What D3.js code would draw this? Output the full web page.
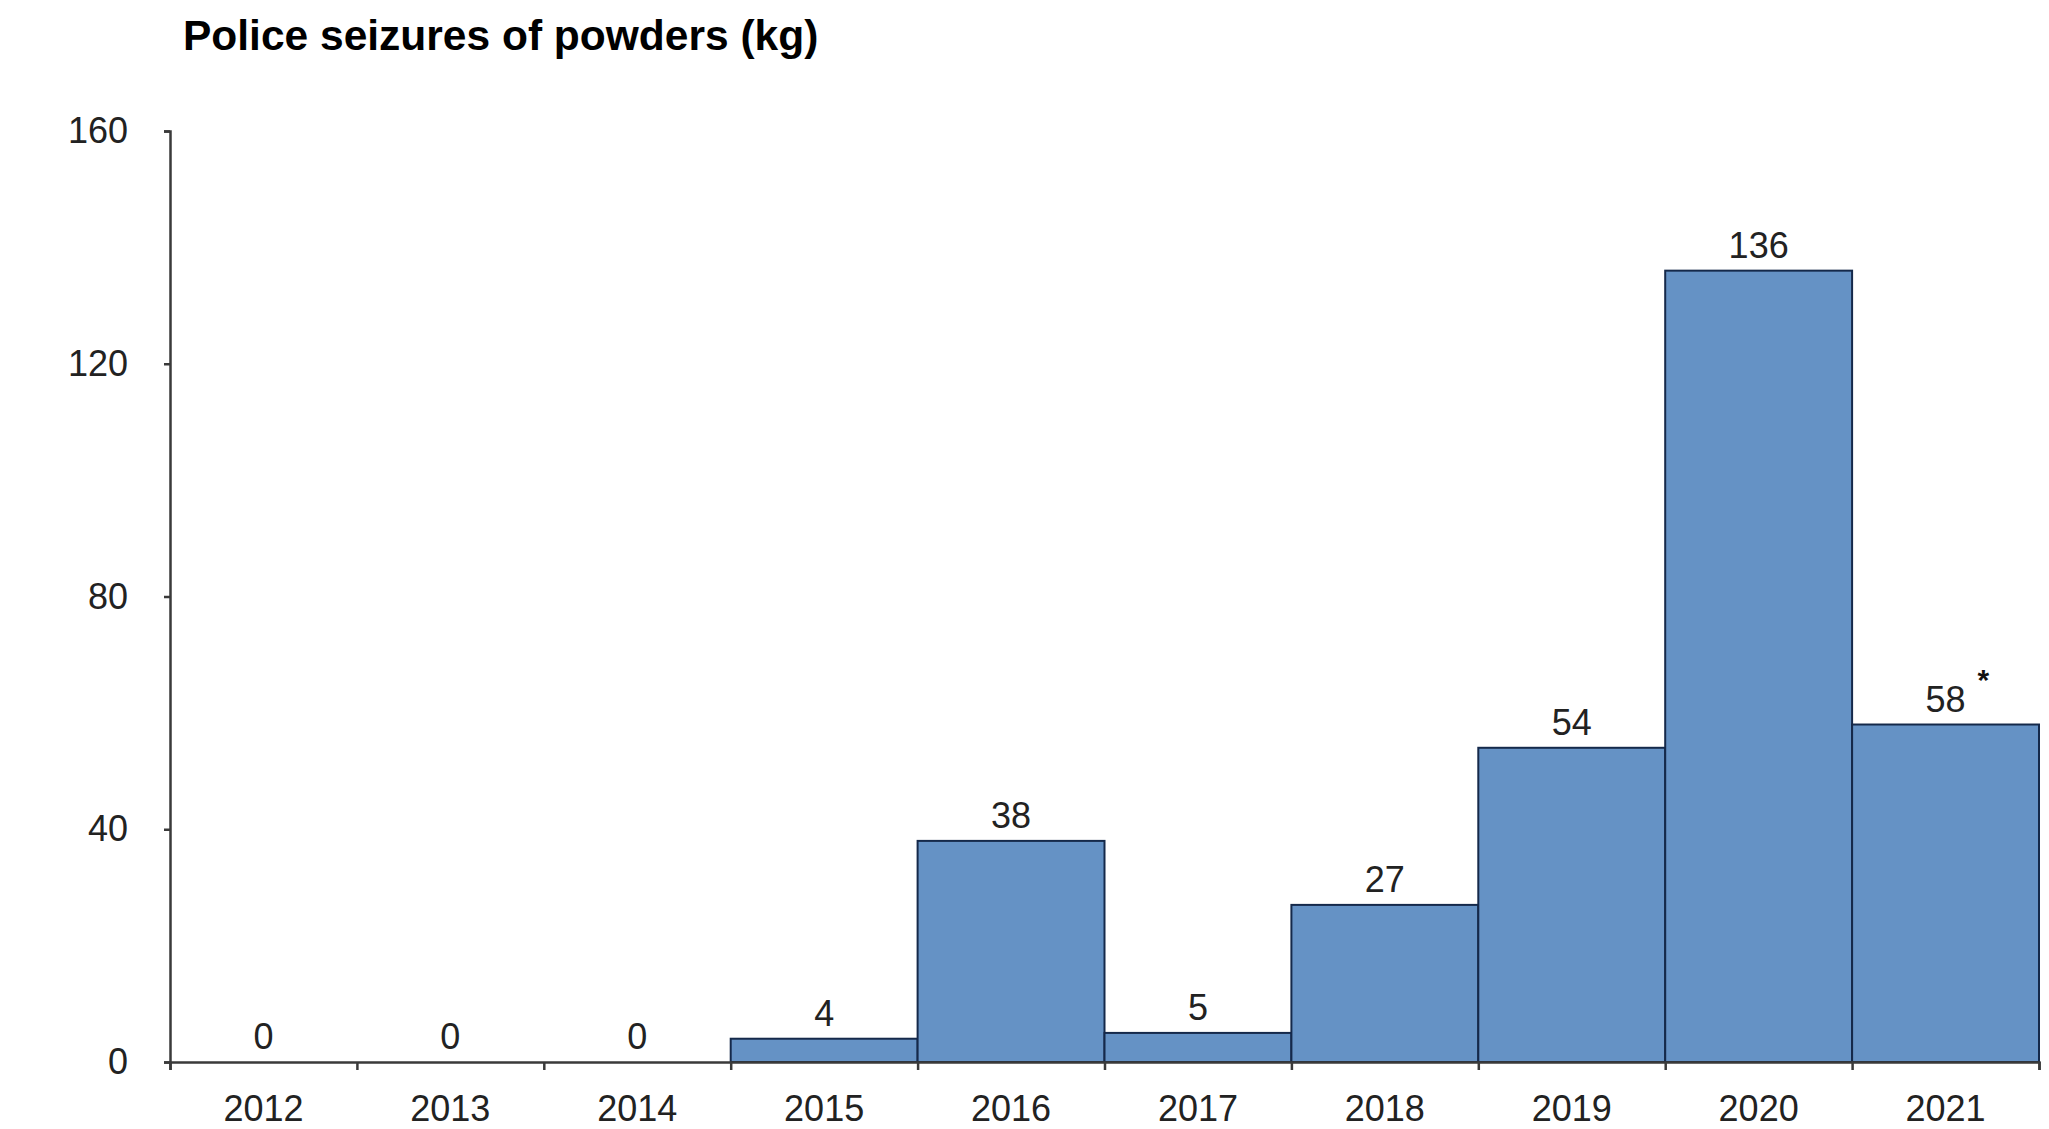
<!DOCTYPE html>
<html>
<head>
<meta charset="utf-8">
<script src="https://cdn.jsdelivr.net/npm/d3@7"></script>
<style>
  body { margin: 0; background: #fff; }
  svg { display: block; font-family: "Liberation Sans", Arial, sans-serif; }
</style>
</head>
<body>
<svg id="chart" width="2049" height="1129"></svg>
<script>
//------------------------------------------------------------------------------
// Data
//------------------------------------------------------------------------------
var years = ["2012", "2013", "2014", "2015", "2016", "2017", "2018", "2019", "2020", "2021"];
var seizures = [0, 0, 0, 4, 38, 5, 27, 54, 136, 58];
var yTicks = [0, 40, 80, 120, 160];
var notes = ["", "", "", "", "", "", "", "", "", "*"];

var width = 2049,
    height = 1129,
    margin = {top: 131, right: 10, bottom: 67, left: 170};

var svg = d3.select("#chart");

var x = d3.scaleBand()
    .domain(years)
    .range([margin.left, width - margin.right])
    .paddingInner(0)
    .paddingOuter(0);

var y = d3.scaleLinear()
    .domain([0, 160])
    .range([height - margin.bottom, margin.top]);

// boundaries between the bands, for the x tick marks
var edge = d3.scaleLinear()
    .domain([0, years.length])
    .range(x.range());

//------------------------------------------------------------------------------
// Title
//------------------------------------------------------------------------------
svg.append("text")
    .attr("x", 183)
    .attr("y", 50)
    .attr("font-size", 42.5)
    .attr("font-weight", "bold")
    .attr("fill", "#000")
    .text("Police seizures of powders (kg)");

//------------------------------------------------------------------------------
// Bars
//------------------------------------------------------------------------------
svg.append("g")
    .selectAll("rect")
    .data(seizures)
    .enter().append("rect")
    .attr("x", function(d, i) { return x(years[i]); })
    .attr("y", function(d) { return y(d); })
    .attr("width", x.bandwidth())
    .attr("height", function(d) { return y(0) - y(d); })
    .attr("fill", "#6592c5")
    .attr("stroke", function(d) { return d > 0 ? "#15294a" : "none"; })
    .attr("stroke-width", 2);

//------------------------------------------------------------------------------
// Axes
//------------------------------------------------------------------------------
var yAxis = svg.append("g")
    .attr("transform", "translate(" + margin.left + ",0)")
    .call(d3.axisLeft(y).tickValues(yTicks).tickSize(6).tickPadding(36));

yAxis.select(".domain").attr("stroke", "#3a3a3a").attr("stroke-width", 2.5);
yAxis.selectAll(".tick line").attr("stroke", "#3a3a3a").attr("stroke-width", 2.5);
yAxis.selectAll(".tick text")
    .attr("font-size", 36)
    .attr("fill", "#222")
    .attr("font-family", "Liberation Sans, Arial, sans-serif");

var xTicks = svg.append("g")
    .attr("transform", "translate(0," + y(0) + ")")
    .call(d3.axisBottom(edge).tickValues(d3.range(years.length + 1)).tickSize(8).tickFormat(""));

xTicks.select(".domain").attr("stroke", "#3a3a3a").attr("stroke-width", 2.5);
xTicks.selectAll(".tick line").attr("stroke", "#3a3a3a").attr("stroke-width", 2.5);

var xLabels = svg.append("g")
    .attr("transform", "translate(0," + y(0) + ")")
    .call(d3.axisBottom(x).tickSize(0).tickPadding(33));

xLabels.select(".domain").remove();
xLabels.selectAll(".tick text")
    .attr("font-size", 36)
    .attr("fill", "#222")
    .attr("font-family", "Liberation Sans, Arial, sans-serif");

//------------------------------------------------------------------------------
// Value labels
//------------------------------------------------------------------------------
svg.append("g")
    .selectAll("text")
    .data(seizures)
    .enter().append("text")
    .attr("x", function(d, i) { return x(years[i]) + x.bandwidth() / 2; })
    .attr("y", function(d) { return y(d) - 13; })
    .attr("text-anchor", "middle")
    .attr("font-size", 36)
    .attr("fill", "#222")
    .text(function(d) { return d; });

svg.append("g")
    .selectAll("text")
    .data(notes)
    .enter().append("text")
    .attr("x", function(d, i) { return x(years[i]) + x.bandwidth() / 2 + 32; })
    .attr("y", function(d, i) { return y(seizures[i]) - 35; })
    .attr("font-size", 30)
    .attr("font-weight", "bold")
    .attr("fill", "#111")
    .text(function(d) { return d; });
</script>
</body>
</html>
